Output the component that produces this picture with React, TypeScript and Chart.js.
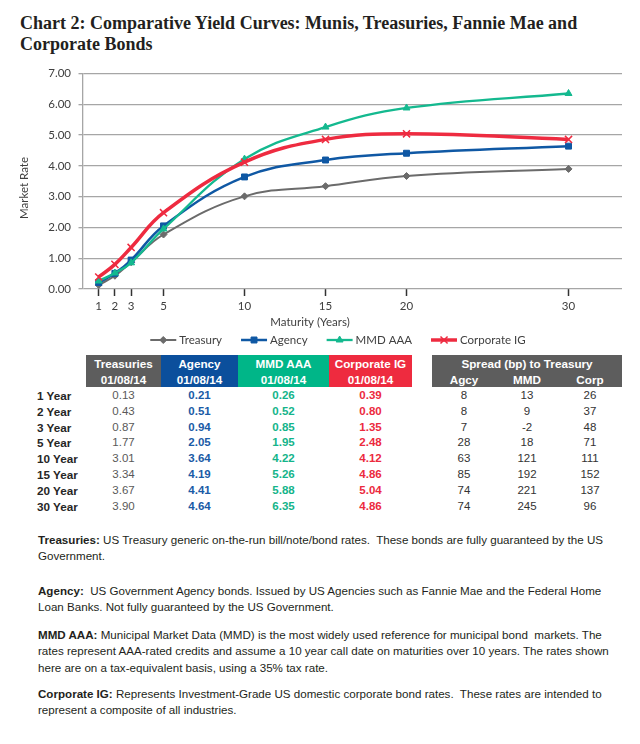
import { useEffect, useRef } from "react";
import { Chart, registerables } from "chart.js";
import { drawPoint } from "chart.js/helpers";

Chart.register(...registerables);

// maturity in years (x axis)
const maturities = [1, 2, 3, 5, 10, 15, 20, 30];
const rowLabels = ["1 Year", "2 Year", "3 Year", "5 Year", "10 Year", "15 Year", "20 Year", "30 Year"];

// yields 01/08/14
const treasury = [0.13, 0.43, 0.87, 1.77, 3.01, 3.34, 3.67, 3.9];
const agency = [0.21, 0.51, 0.94, 2.05, 3.64, 4.19, 4.41, 4.64];
const mmdAaa = [0.26, 0.52, 0.85, 1.95, 4.22, 5.26, 5.88, 6.35];
const corporateIg = [0.39, 0.8, 1.35, 2.48, 4.12, 4.86, 5.04, 4.86];

// spread (bp) to treasury
const spreadAgcy = [8, 8, 7, 28, 63, 85, 74, 74];
const spreadMmd = [13, 9, -2, 18, 121, 192, 221, 245];
const spreadCorp = [26, 37, 48, 71, 111, 152, 137, 96];

const seriesLabels = ["Treasury", "Agency", "MMD AAA", "Corporate IG"];

const GREY = "#6b6b6b";
const BLUE = "#0f58a4";
const GREEN = "#14b98f";
const RED = "#ee2b40";
const AXIS_TEXT = "#404040";
const GRID = "#a6a6a6";
const CHART_FONT = "Lato, 'Liberation Sans', sans-serif";
const TABLE_FONT = "'Liberation Sans', Arial, sans-serif";

const decorPlugin = {
  id: "decor",
  afterDraw(chart: any) {
    const ctx: CanvasRenderingContext2D = chart.ctx;
    ctx.save();
    ctx.font = `11.5px ${CHART_FONT}`;
    ctx.fillStyle = AXIS_TEXT;
    ctx.textBaseline = "middle";
    ctx.textAlign = "center";
    ctx.fillText("Maturity (Years)", 310, 264);

    ctx.save();
    ctx.translate(24, 130);
    ctx.rotate(-Math.PI / 2);
    ctx.fillText("Market Rate", 0, 0);
    ctx.restore();

    // legend: line with marker, then label
    const lineLen = 26;
    const gap = 19;
    const y = 282;
    const items = chart.data.datasets.map((ds: any) => ({
      ds,
      w: lineLen + 3 + ctx.measureText(ds.label).width,
    }));
    const total = items.reduce((s: number, it: any) => s + it.w, 0) + gap * (items.length - 1);
    let x = 338 - total / 2;
    ctx.textAlign = "left";
    for (const { ds, w } of items) {
      ctx.strokeStyle = ds.borderColor;
      ctx.lineWidth = ds.borderWidth;
      ctx.beginPath();
      ctx.moveTo(x, y);
      ctx.lineTo(x + lineLen, y);
      ctx.stroke();
      ctx.fillStyle = ds.pointBackgroundColor;
      ctx.strokeStyle = ds.pointBorderColor;
      ctx.lineWidth = ds.pointBorderWidth;
      drawPoint(ctx, { pointStyle: ds.pointStyle, radius: ds.pointRadius, rotation: 0, borderWidth: ds.pointBorderWidth }, x + lineLen / 2, y);
      ctx.fillStyle = AXIS_TEXT;
      ctx.fillText(ds.label, x + lineLen + 3, y + 0.5);
      x += w + gap;
    }
    ctx.restore();
  },
};

function makeSeries(label: string, values: number[], color: string, style: string, radius: number, width: number, order: number) {
  return {
    label,
    data: maturities.map((m, i) => ({ x: m, y: values[i] })),
    borderColor: color,
    backgroundColor: color,
    borderWidth: width,
    pointStyle: style,
    pointRadius: radius,
    pointBackgroundColor: color,
    pointBorderColor: color,
    pointBorderWidth: style === "crossRot" ? 1.5 : 1,
    tension: 0.4,
    fill: false,
    order,
  };
}

function YieldChart() {
  const canvasRef = useRef<HTMLCanvasElement | null>(null);

  useEffect(() => {
    const canvas = canvasRef.current;
    if (!canvas) return;

    const chart = new Chart(canvas, {
      type: "line",
      data: {
        datasets: [
          makeSeries(seriesLabels[0], treasury, GREY, "rectRot", 3.5, 2, 3),
          makeSeries(seriesLabels[1], agency, BLUE, "rect", 4.2, 2.5, 2),
          makeSeries(seriesLabels[2], mmdAaa, GREEN, "triangle", 4, 2.3, 1),
          makeSeries(seriesLabels[3], corporateIg, RED, "crossRot", 5, 3.5, 0),
        ] as any,
      },
      options: {
        responsive: false,
        animation: false,
        layout: { padding: { top: 15.5, right: 18, bottom: 23, left: 0 } },
        plugins: {
          legend: { display: false },
          tooltip: { enabled: false },
        },
        scales: {
          x: {
            type: "linear",
            min: 0,
            max: 33.3,
            afterBuildTicks: (scale: any) => {
              scale.ticks = maturities.map((v) => ({ value: v }));
            },
            afterFit: (scale: any) => {
              scale.height = 40;
            },
            grid: {
              drawOnChartArea: false,
              drawTicks: true,
              tickLength: 7,
              tickColor: "#333333",
              tickWidth: 1.5,
            },
            border: { display: false },
            ticks: {
              autoSkip: false,
              maxRotation: 0,
              padding: 3,
              color: AXIS_TEXT,
              font: { family: CHART_FONT, size: 11.5 },
              callback: (value: any) => String(value),
            },
          },
          y: {
            min: 0,
            max: 7,
            afterFit: (scale: any) => {
              scale.width = 82.5;
            },
            grid: {
              color: GRID,
              lineWidth: 1.3,
              tickLength: 4,
            },
            border: { display: true, color: GRID, width: 1.3 },
            ticks: {
              stepSize: 1,
              padding: 7.5,
              color: AXIS_TEXT,
              font: { family: CHART_FONT, size: 11.5 },
              callback: (value: any) => Number(value).toFixed(2),
            },
          },
        },
      },
      plugins: [decorPlugin],
    });

    return () => {
      chart.destroy();
    };
  }, []);

  return (
    <canvas
      ref={canvasRef}
      width={640}
      height={294}
      style={{ position: "absolute", left: 0, top: 58, width: 640, height: 294 }}
    />
  );
}

const yieldColumns = [
  { head: "Treasuries", values: treasury, left: 86, width: 75, bg: "#5d5d5d", color: "#595959", bold: false },
  { head: "Agency", values: agency, left: 161, width: 77, bg: "#0b4f9c", color: "#1a5ba6", bold: true },
  { head: "MMD AAA", values: mmdAaa, left: 238, width: 91, bg: "#00b688", color: "#14b48a", bold: true },
  { head: "Corporate IG", values: corporateIg, left: 329, width: 83, bg: "#ee2b3f", color: "#ec2a3e", bold: true },
];

const spreadColumns = [
  { head: "Agcy", values: spreadAgcy, left: 432, width: 64 },
  { head: "MMD", values: spreadMmd, left: 496, width: 62 },
  { head: "Corp", values: spreadCorp, left: 558, width: 64 },
];

const ROW_TOP = 387.7;
const ROW_H = 15.9;

function YieldTable() {
  const cell = (left: number, top: number, width: number, extra: any = {}) => ({
    position: "absolute" as const,
    left,
    top,
    width,
    height: ROW_H,
    lineHeight: `${ROW_H}px`,
    textAlign: "center" as const,
    fontFamily: TABLE_FONT,
    fontSize: 11.5,
    whiteSpace: "nowrap" as const,
    ...extra,
  });

  const headStyle = {
    position: "absolute" as const,
    top: 355,
    height: 32,
    color: "#ffffff",
    fontFamily: TABLE_FONT,
    fontSize: 11.7,
    fontWeight: "bold" as const,
    textAlign: "center" as const,
    lineHeight: "16px",
    paddingTop: 1,
    boxSizing: "border-box" as const,
  };

  return (
    <div>
      {yieldColumns.map((col) => (
        <div key={col.head} style={{ ...headStyle, left: col.left, width: col.width, background: col.bg }}>
          {col.head}
          <br />
          01/08/14
        </div>
      ))}
      <div style={{ ...headStyle, left: 432, width: 190, background: "#5d5d5d" }}>Spread (bp) to Treasury</div>
      {spreadColumns.map((col) => (
        <div
          key={"h" + col.head}
          style={cell(col.left, 372, col.width, { color: "#ffffff", fontWeight: "bold", fontSize: 11.7, height: 16, lineHeight: "16px" })}
        >
          {col.head}
        </div>
      ))}
      {rowLabels.map((label, i) => (
        <div key={label} style={cell(37, ROW_TOP + i * ROW_H, 50, { textAlign: "left", fontWeight: "bold", fontSize: 11.7, color: "#262626" })}>
          {label}
        </div>
      ))}
      {yieldColumns.map((col) =>
        col.values.map((v, i) => (
          <div
            key={col.head + i}
            style={cell(col.left, ROW_TOP + i * ROW_H, col.width, { color: col.color, fontWeight: col.bold ? "bold" : "normal" })}
          >
            {v.toFixed(2)}
          </div>
        ))
      )}
      {spreadColumns.map((col) =>
        col.values.map((v, i) => (
          <div key={"s" + col.head + i} style={cell(col.left, ROW_TOP + i * ROW_H, col.width, { color: "#333333" })}>
            {v}
          </div>
        ))
      )}
    </div>
  );
}

const notes = [
  {
    head: "Treasuries:",
    top: 532,
    lines: [
      " US Treasury generic on-the-run bill/note/bond rates.  These bonds are fully guaranteed by the US",
      "Government.",
    ],
  },
  {
    head: "Agency:",
    top: 583,
    lines: [
      "  US Government Agency bonds. Issued by US Agencies such as Fannie Mae and the Federal Home",
      "Loan Banks. Not fully guaranteed by the US Government.",
    ],
  },
  {
    head: "MMD AAA:",
    top: 627,
    lines: [
      " Municipal Market Data (MMD) is the most widely used reference for municipal bond  markets. The",
      "rates represent AAA-rated credits and assume a 10 year call date on maturities over 10 years. The rates shown",
      "here are on a tax-equivalent basis, using a 35% tax rate.",
    ],
  },
  {
    head: "Corporate IG:",
    top: 686,
    lines: [
      " Represents Investment-Grade US domestic corporate bond rates.  These rates are intended to",
      "represent a composite of all industries.",
    ],
  },
];

function Notes() {
  return (
    <div>
      {notes.map((p) => (
        <div
          key={p.head}
          style={{
            position: "absolute",
            left: 38,
            top: p.top,
            fontFamily: TABLE_FONT,
            fontSize: 11.6,
            lineHeight: "16.4px",
            color: "#231f20",
            whiteSpace: "pre",
          }}
        >
          <b>{p.head}</b>
          {p.lines[0]}
          {p.lines.slice(1).map((l, i) => (
            <div key={i}>{l}</div>
          ))}
        </div>
      ))}
    </div>
  );
}

export default function App() {
  return (
    <div
      style={{
        position: "absolute",
        left: 0,
        top: 0,
        width: 640,
        height: 744,
        background: "#ffffff",
        overflow: "hidden",
      }}
    >
      <div
        style={{
          position: "absolute",
          left: 20,
          top: 12.5,
          fontFamily: "'Liberation Serif', 'Times New Roman', serif",
          fontWeight: "bold",
          fontSize: 18,
          lineHeight: "21px",
          color: "#231f20",
          whiteSpace: "nowrap",
        }}
      >
        Chart 2: Comparative Yield Curves: Munis, Treasuries, Fannie Mae and
        <br />
        Corporate Bonds
      </div>
      <YieldChart />
      <YieldTable />
      <Notes />
    </div>
  );
}
